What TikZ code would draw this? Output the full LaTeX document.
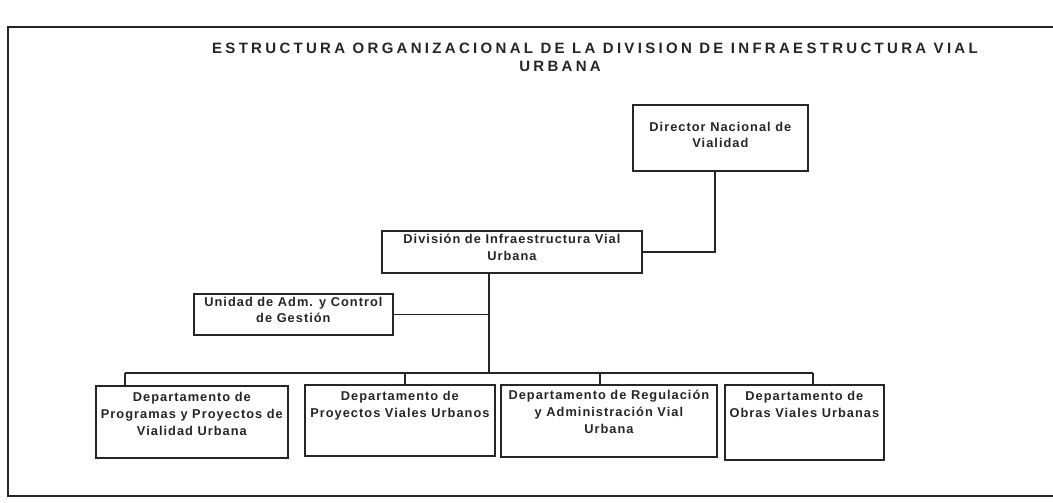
\documentclass[tikz,border=0pt]{standalone}
\usepackage{fontspec}
\setmainfont{Liberation Sans}
\newfontfamily\titlefont[LetterSpace=22]{Liberation Sans}
\newfontfamily\boxfont[LetterSpace=8]{Liberation Sans}
\definecolor{ink}{HTML}{262626}
\begin{document}
\begin{tikzpicture}[x=1pt,y=-1pt,
  box/.style={draw=ink, line width=1.8pt, inner sep=0pt, anchor=north west},
  lbl/.style={font=\boxfont\bfseries\fontsize{12.8}{17}\selectfont, align=center, text=ink, inner sep=0pt},
  ttl/.style={font=\titlefont\bfseries\fontsize{15}{17}\selectfont, text=ink, inner sep=0pt},
  conn/.style={draw=ink, line width=1.6pt},
  frame/.style={draw=ink, line width=2pt}]
\useasboundingbox (0,0) rectangle (1053,503);
\fill[white] (0,0) rectangle (1053,503);
% frame
\draw[frame] (1060,27) -- (8,27) -- (8,496) -- (1060,496);
% title
\node[ttl] (title) at (595,48) {ESTRUCTURA ORGANIZACIONAL DE LA DIVISION DE INFRAESTRUCTURA VIAL};
\node[ttl] (title2) at (560,66) {URBANA};
% boxes
\node[box, minimum width=175pt, minimum height=66pt] (dir) at (632,104) {};
\node[lbl, font=\boxfont\bfseries\fontsize{12.8}{15.5}\selectfont] (dirt) at ([yshift=3pt]dir.center) {Director Nacional de\\Vialidad};
\node[box, minimum width=260pt, minimum height=42pt] (div) at (381,230) {};
\node[lbl, anchor=north] (divt) at ([yshift=-4pt]div.north) {División de Infraestructura Vial\\Urbana};
\node[box, minimum width=199pt, minimum height=41pt] (uni) at (193,293) {};
\node[lbl, anchor=north, font=\boxfont\bfseries\fontsize{12.8}{16}\selectfont] (unit) at ([yshift=-4pt]uni.north) {Unidad de Adm. y Control\\de Gestión};
\node[box, minimum width=192pt, minimum height=72pt] (d1) at (95,385) {};
\node[lbl, anchor=north] (d1t) at ([yshift=-7pt]d1.north) {Departamento de\\Programas y Proyectos de\\Vialidad Urbana};
\node[box, minimum width=190pt, minimum height=71pt] (d2) at (304,384) {};
\node[lbl, anchor=north] (d2t) at ([yshift=-7pt]d2.north) {Departamento de\\Proyectos Viales Urbanos};
\node[box, minimum width=216pt, minimum height=72pt] (d3) at (500,384) {};
\node[lbl, anchor=north] (d3t) at ([yshift=-6pt]d3.north) {Departamento de Regulación\\y Administración Vial\\Urbana};
\node[box, minimum width=159pt, minimum height=75pt] (d4) at (724,384) {};
\node[lbl, anchor=north] (d4t) at ([yshift=-7pt]d4.north) {Departamento de\\Obras Viales Urbanas};
% junction points
\coordinate (trunk) at (489,373);
\coordinate (j1) at (125,373);
\coordinate (j2) at (405,373);
\coordinate (j3) at (600,373);
\coordinate (j4) at (813,373);
\coordinate (dirx) at (715,0);
% connectors
\draw[conn] (dir.south -| dirx) -- (div.east -| dirx) -- (div.east);
\draw[conn] (div.south -| trunk) -- (trunk);
\draw[conn] (uni.east) -- (uni.east -| trunk);
\draw[conn] (j1) -- (j4);
\draw[conn] (j1) -- (j1 |- d1.north);
\draw[conn] (j2) -- (j2 |- d2.north);
\draw[conn] (j3) -- (j3 |- d3.north);
\draw[conn] (j4) -- (j4 |- d4.north);
\end{tikzpicture}
\end{document}
